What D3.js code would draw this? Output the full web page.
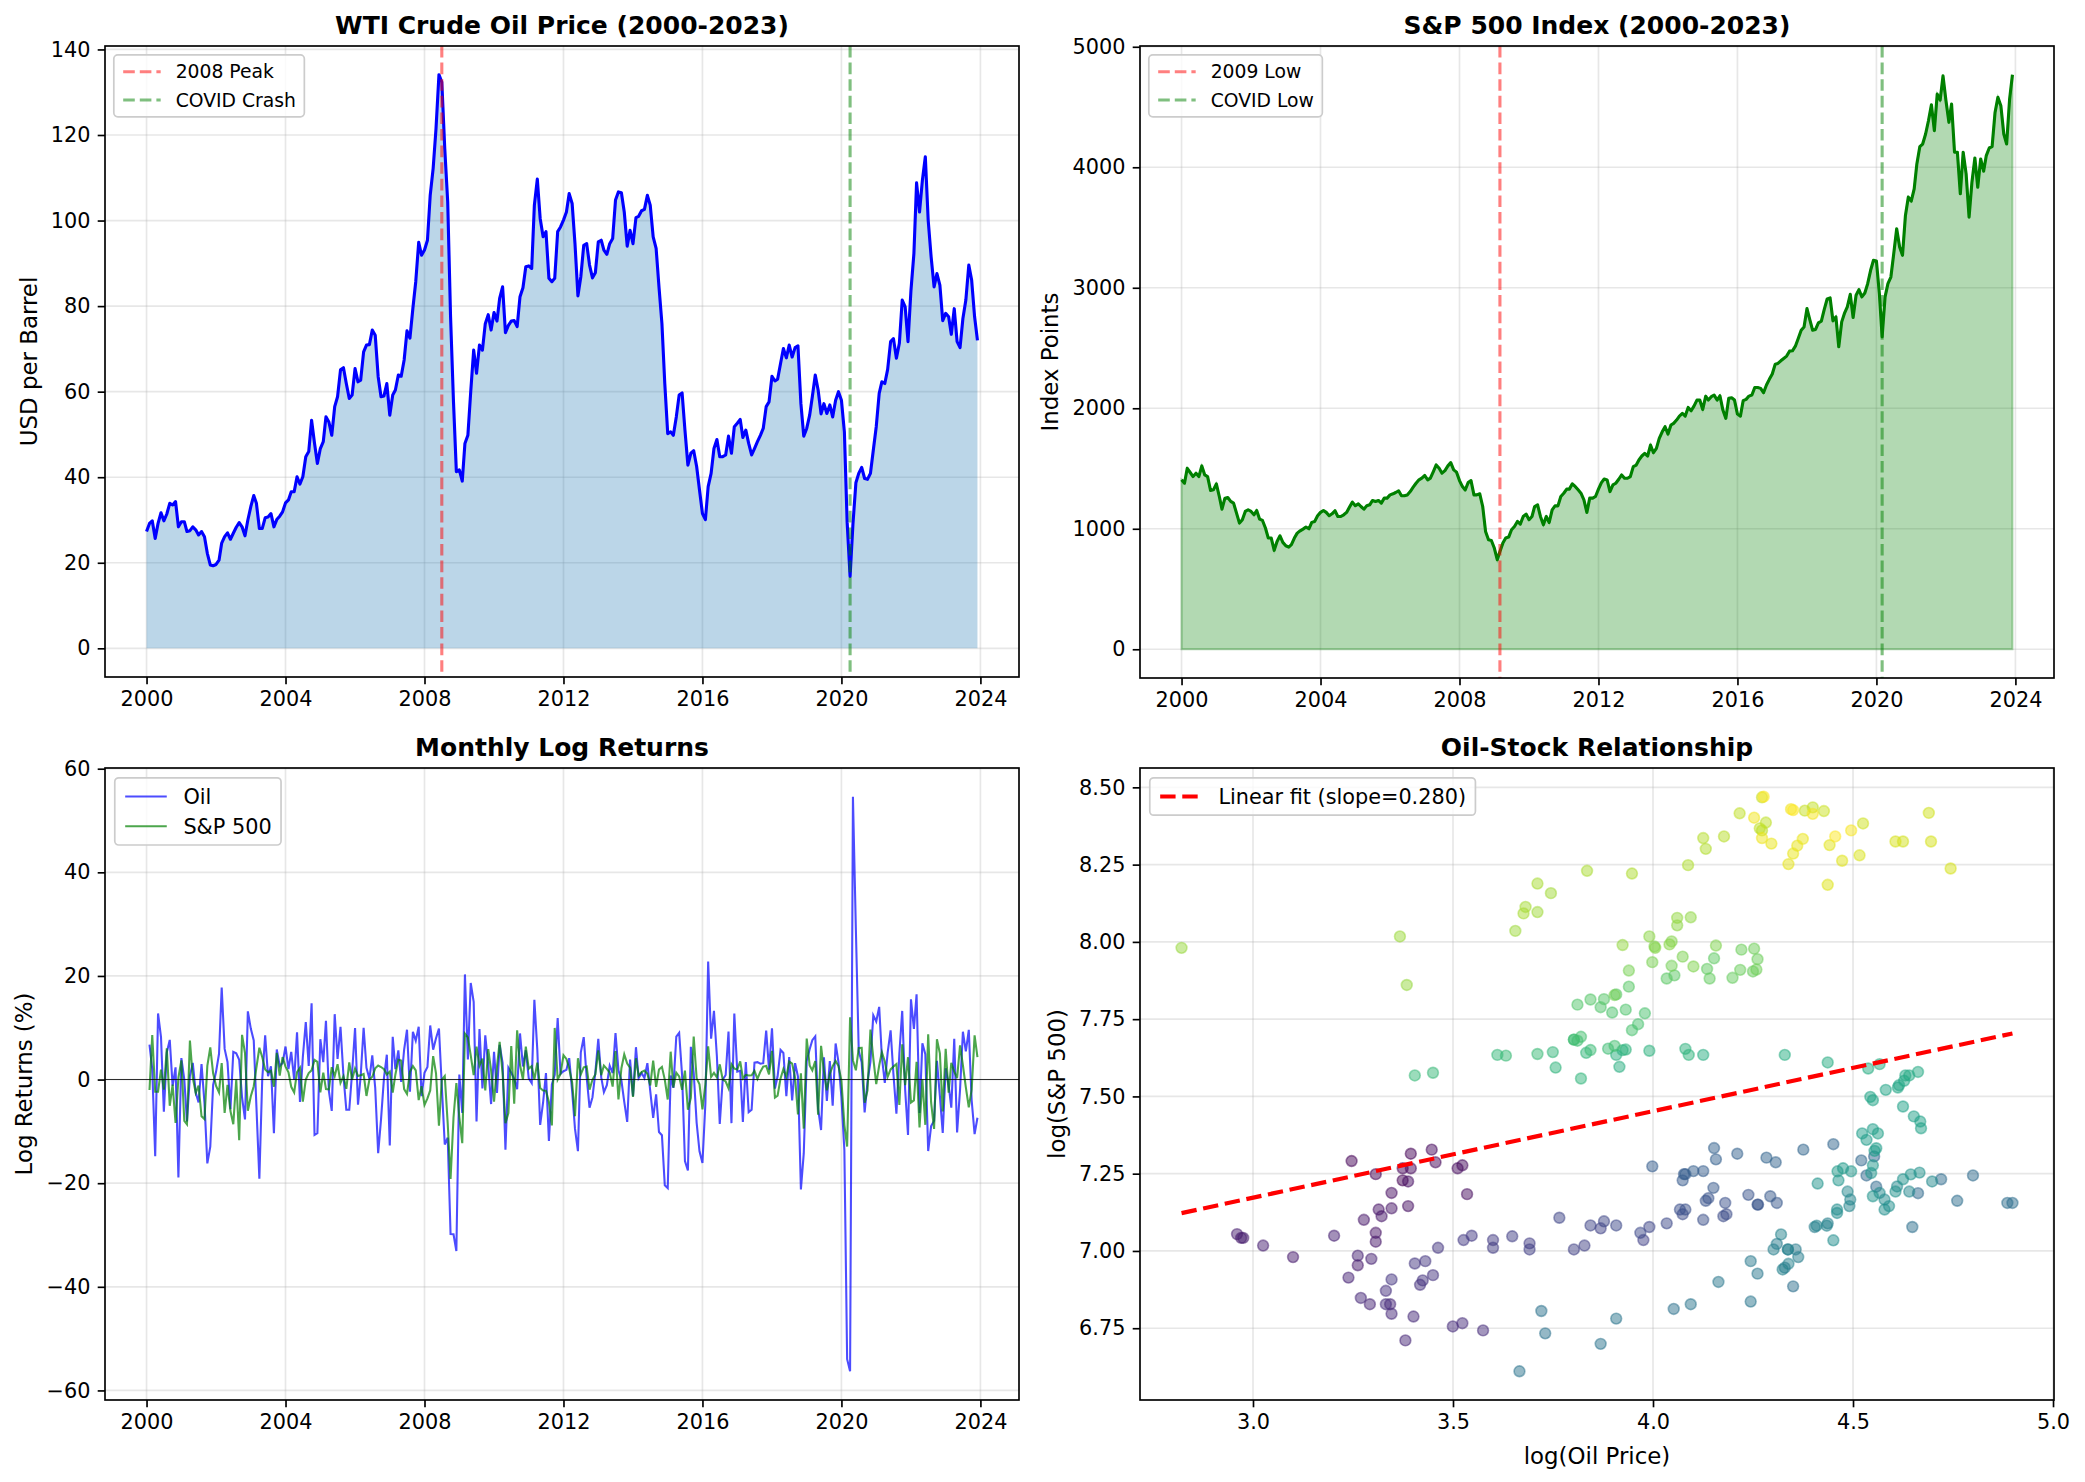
<!DOCTYPE html>
<html><head><meta charset="utf-8">
<script src="https://cdn.jsdelivr.net/npm/d3@7"></script>
<style>body{margin:0;background:#fff} svg{display:block}</style>
</head><body>
<svg id="chart" width="2085" height="1482"></svg>
<script>
// ---------------- DATA (monthly, Jan 2000 .. Dec 2023) ----------------
const startYear = 2000;
const oilPrice = [
 27.3,29.2,29.8,25.7,29.2,31.7,29.8,31.4,33.9,33.5,34.3,28.4,
 29.6,29.6,27.3,27.5,28.4,27.7,26.5,27.3,26.1,22.2,19.5,19.3,
 19.6,20.6,24.6,26.1,27.0,25.5,26.9,28.3,29.4,28.4,26.3,30.0,
 33.1,35.7,33.9,28.0,28.0,30.5,30.7,31.5,28.4,30.1,30.9,31.9,
 34.0,34.7,36.6,36.6,40.1,38.4,40.1,44.8,46.0,53.3,47.9,43.2,
 46.7,48.3,54.1,52.9,49.8,56.5,58.8,65.1,65.6,61.9,58.4,59.2,
 65.4,62.3,62.7,69.3,70.9,71.0,74.4,73.2,63.5,58.8,59.0,61.9,
 54.5,59.2,60.4,63.9,63.6,67.4,74.2,72.5,79.5,85.7,94.9,91.9,
 93.1,95.4,105.9,112.2,121.5,134.1,132.4,116.8,104.4,77.5,57.5,41.3,
 41.7,39.1,47.9,49.8,60.0,69.7,64.3,70.9,69.7,75.9,78.0,74.4,
 78.5,76.5,81.8,84.5,73.8,75.5,76.5,76.6,75.2,82.2,84.3,89.2,
 89.4,88.8,103.6,109.7,100.5,96.2,97.4,86.5,85.7,86.5,97.4,98.5,
 100.1,102.0,106.3,104.0,94.6,82.4,86.8,94.2,94.6,89.6,86.6,87.8,
 95.0,95.4,93.1,92.1,94.6,95.8,104.8,106.7,106.5,102.0,94.0,97.7,
 94.6,100.7,101.0,102.3,102.6,105.9,103.6,96.2,93.5,84.5,75.9,61.9,
 50.2,50.6,49.8,54.1,59.2,59.7,51.0,42.8,45.6,46.2,42.5,37.0,
 31.5,30.1,37.8,40.9,46.7,48.8,44.8,44.8,45.2,49.6,45.6,51.8,
 52.6,53.5,49.3,51.0,47.9,45.2,46.7,48.3,49.8,51.4,56.5,57.6,
 63.6,62.5,62.9,66.6,70.1,67.9,70.9,68.1,70.3,70.7,57.2,49.6,
 51.4,54.5,58.8,63.9,60.4,54.8,57.2,54.9,56.9,54.1,58.0,60.0,
 58.0,50.6,29.5,16.8,29.0,38.7,40.9,42.3,39.7,39.5,40.9,46.3,
 51.8,59.6,62.3,61.9,65.2,71.7,72.4,67.8,71.3,81.4,79.8,71.7,
 83.7,92.3,108.8,102.0,109.4,114.9,100.1,91.5,84.5,87.6,84.9,76.6,
 78.3,77.5,73.4,79.4,71.7,70.3,77.1,81.4,89.6,86.1,77.5,72.0
];
const sp500 = [
 1406,1378,1502,1467,1433,1461,1433,1522,1447,1433,1318,1323,
 1373,1268,1163,1254,1259,1227,1213,1130,1047,1075,1144,1158,
 1144,1116,1152,1080,1069,1006,923,923,821,895,942,887,
 859,848,868,923,964,983,997,1014,1000,1053,1061,1108,
 1136,1152,1136,1108,1124,1150,1102,1102,1116,1136,1180,1221,
 1191,1207,1185,1163,1191,1199,1235,1227,1235,1213,1254,1254,
 1281,1290,1301,1315,1274,1274,1281,1309,1345,1378,1406,1420,
 1442,1406,1420,1475,1530,1502,1461,1483,1522,1549,1489,1470,
 1400,1350,1322,1383,1400,1281,1281,1290,1185,978,909,903,
 840,743,812,881,923,931,992,1019,1061,1039,1102,1122,
 1075,1102,1185,1199,1102,1033,1102,1052,1157,1190,1190,1268,
 1295,1329,1329,1373,1351,1323,1295,1240,1135,1254,1254,1268,
 1329,1383,1413,1405,1309,1364,1378,1411,1447,1419,1419,1433,
 1516,1529,1571,1604,1626,1604,1695,1631,1667,1750,1805,1847,
 1786,1861,1875,1902,1935,1957,1935,2007,1979,2018,2068,2068,
 1990,2100,2068,2096,2109,2068,2104,1985,1916,2082,2087,2068,
 1952,1935,2063,2074,2101,2110,2173,2173,2165,2129,2193,2240,
 2284,2366,2372,2394,2413,2433,2474,2477,2515,2579,2648,2675,
 2827,2731,2648,2654,2709,2723,2819,2907,2916,2726,2759,2510,
 2717,2792,2842,2946,2753,2938,2985,2924,2957,3034,3145,3228,
 3222,2951,2593,2924,3034,3089,3283,3490,3338,3269,3600,3752,
 3719,3821,4028,4171,4193,4276,4386,4519,4304,4607,4558,4759,
 4552,4373,4525,4125,4125,3780,4125,3945,3586,3876,4077,3834,
 4069,3967,4097,4160,4171,4455,4580,4511,4276,4193,4566,4768
];
const yearTicks = [2000,2004,2008,2012,2016,2020,2024];
const oilTicks = [0,20,40,60,80,100,120,140];
const spTicks = [0,1000,2000,3000,4000,5000];
const retTicks = [-60,-40,-20,0,20,40,60];
const logOilTicks = [3.0,3.5,4.0,4.5,5.0];
const logSpTicks = [6.75,7.00,7.25,7.50,7.75,8.00,8.25,8.50];
const oilMarkers = [{date:"2008-07-01", label:"2008 Peak", color:"red"},
                    {date:"2020-04-01", label:"COVID Crash", color:"green"}];
const spMarkers  = [{date:"2009-03-01", label:"2009 Low", color:"red"},
                    {date:"2020-03-01", label:"COVID Low", color:"green"}];
const titles = ["WTI Crude Oil Price (2000-2023)","S&P 500 Index (2000-2023)","Monthly Log Returns","Oil-Stock Relationship"];

// ---------------- SETUP ----------------
const FONT = "DejaVu Sans, sans-serif";
const svg = d3.select("#chart");
svg.append("rect").attr("width",2085).attr("height",1482).attr("fill","#fff");
const dates = oilPrice.map((_,i)=>new Date(startYear, i, 1));
const P = [
  {l:105, r:1019, t:46, b:677},
  {l:1140, r:2054, t:46, b:678},
  {l:105, r:1019, t:768, b:1400},
  {l:1140, r:2054, t:768, b:1400}
];
const TICK=7.3, PAD=7.3, LW=1.67;
function pad(ext){const s=ext[1]-ext[0]; return [ext[0]-0.05*s, ext[1]+0.05*s];}
const tspan = [dates[0], dates[dates.length-1]];
const tpad = pad(tspan.map(d=>+d)).map(v=>new Date(v));

function styleAxis(g){
  g.attr("font-family",FONT).attr("font-size",20.8);
  g.select(".domain").remove();
  g.selectAll(".tick line").attr("stroke","#000").attr("stroke-width",LW);
  g.selectAll(".tick text").attr("fill","#000");
}
function grid(p, x, y, xt, yt){
  const g = svg.append("g");
  g.selectAll("line.gx").data(xt).join("line").attr("x1",d=>x(d)).attr("x2",d=>x(d))
    .attr("y1",p.t).attr("y2",p.b).attr("stroke","#b0b0b0").attr("stroke-opacity",0.3).attr("stroke-width",LW);
  g.selectAll("line.gy").data(yt).join("line").attr("y1",d=>y(d)).attr("y2",d=>y(d))
    .attr("x1",p.l).attr("x2",p.r).attr("stroke","#b0b0b0").attr("stroke-opacity",0.3).attr("stroke-width",LW);
}
function frame(p, x, y, xt, yt, xfmt, yfmt){
  const gx = svg.append("g").attr("transform",`translate(0,${p.b})`)
    .call(d3.axisBottom(x).tickValues(xt).tickFormat(xfmt).tickSizeInner(TICK).tickSizeOuter(0).tickPadding(PAD));
  styleAxis(gx);
  const gy = svg.append("g").attr("transform",`translate(${p.l},0)`)
    .call(d3.axisLeft(y).tickValues(yt).tickFormat(yfmt).tickSizeInner(TICK).tickSizeOuter(0).tickPadding(PAD));
  styleAxis(gy);
  svg.append("rect").attr("x",p.l).attr("y",p.t).attr("width",p.r-p.l).attr("height",p.b-p.t)
    .attr("fill","none").attr("stroke","#000").attr("stroke-width",LW);
}
function title(p, txt){
  svg.append("text").attr("x",(p.l+p.r)/2).attr("y",p.t-12.5).attr("text-anchor","middle")
    .attr("font-family",FONT).attr("font-size",25).attr("font-weight","bold").text(txt);
}
function ylabel(p, x, txt){
  const cy=(p.t+p.b)/2;
  svg.append("text").attr("transform",`translate(${x},${cy}) rotate(-90)`).attr("text-anchor","middle")
    .attr("dy","0.35em").attr("font-family",FONT).attr("font-size",22.9).text(txt);
}
function legend(p, items, fs, rowGap){
  const g = svg.append("g");
  const bx = p.l + 0.47*fs, by = p.t + 0.47*fs;
  const box = g.append("rect");
  const top = 0.9*fs;
  let maxEnd = 0;
  items.forEach((it,i)=>{
    const cy = by + top + i*rowGap;
    const hx0 = bx + 0.5*fs, hx1 = hx0 + 2*fs;
    g.append("line").attr("x1",hx0).attr("x2",hx1).attr("y1",cy).attr("y2",cy)
      .attr("stroke",it.color).attr("stroke-opacity",it.opacity).attr("stroke-width",it.width)
      .attr("stroke-dasharray",it.dash||null);
    const t = g.append("text").attr("x",hx1+0.8*fs).attr("y",cy).attr("dy","0.36em")
      .attr("font-family",FONT).attr("font-size",fs).attr("fill","#000").text(it.label);
    maxEnd = Math.max(maxEnd, hx1+0.8*fs + t.node().getComputedTextLength());
  });
  const h = 2*top + (items.length-1)*rowGap;
  box.attr("x",bx).attr("y",by).attr("width",maxEnd+0.45*fs-bx).attr("height",h)
    .attr("rx",4).attr("fill","#fff").attr("fill-opacity",0.8).attr("stroke","#cccccc").attr("stroke-width",1.7);
}

// ---------------- PANEL 1: OIL ----------------
{
  const p=P[0];
  const x=d3.scaleTime().domain(tpad).range([p.l,p.r]);
  const y=d3.scaleLinear().domain(pad([0,d3.max(oilPrice)])).range([p.b,p.t]);
  grid(p,x,y,yearTicks.map(v=>new Date(v,0,1)),oilTicks);
  svg.append("path").datum(oilPrice).attr("fill","#1f77b4").attr("fill-opacity",0.3)
    .attr("d",d3.area().x((d,i)=>x(dates[i])).y0(y(0)).y1(d=>y(d)));
  svg.append("path").datum(oilPrice).attr("fill","none").attr("stroke","#0000ff").attr("stroke-width",3.1)
    .attr("stroke-linejoin","round").attr("d",d3.line().x((d,i)=>x(dates[i])).y(d=>y(d)));
  oilMarkers.forEach(m=>{
    const xx=x(new Date(m.date+"T00:00:00"));
    svg.append("line").attr("x1",xx).attr("x2",xx).attr("y1",p.t).attr("y2",p.b)
      .attr("stroke",m.color).attr("stroke-opacity",0.5).attr("stroke-width",3.1).attr("stroke-dasharray","11.6,5");
  });
  frame(p,x,y,yearTicks.map(v=>new Date(v,0,1)),oilTicks,d3.timeFormat("%Y"),d3.format("d"));
  title(p,titles[0]); ylabel(p,29,"USD per Barrel");
  legend(p, oilMarkers.map(m=>({label:m.label,color:m.color,opacity:0.5,width:3.1,dash:"11.6,5"})),18.75,28.3);
}
// ---------------- PANEL 2: S&P ----------------
{
  const p=P[1];
  const x=d3.scaleTime().domain(tpad).range([p.l,p.r]);
  const y=d3.scaleLinear().domain(pad([0,d3.max(sp500)])).range([p.b,p.t]);
  grid(p,x,y,yearTicks.map(v=>new Date(v,0,1)),spTicks);
  svg.append("path").datum(sp500).attr("fill","#008000").attr("fill-opacity",0.3)
    .attr("stroke","#008000").attr("stroke-opacity",0.3).attr("stroke-width",2)
    .attr("d",d3.area().x((d,i)=>x(dates[i])).y0(y(0)).y1(d=>y(d)));
  svg.append("path").datum(sp500).attr("fill","none").attr("stroke","#008000").attr("stroke-width",3.1)
    .attr("stroke-linejoin","round").attr("d",d3.line().x((d,i)=>x(dates[i])).y(d=>y(d)));
  spMarkers.forEach(m=>{
    const xx=x(new Date(m.date+"T00:00:00"));
    svg.append("line").attr("x1",xx).attr("x2",xx).attr("y1",p.t).attr("y2",p.b)
      .attr("stroke",m.color).attr("stroke-opacity",0.5).attr("stroke-width",3.1).attr("stroke-dasharray","11.6,5");
  });
  frame(p,x,y,yearTicks.map(v=>new Date(v,0,1)),spTicks,d3.timeFormat("%Y"),d3.format("d"));
  title(p,titles[1]); ylabel(p,1050,"Index Points");
  legend(p, spMarkers.map(m=>({label:m.label,color:m.color,opacity:0.5,width:3.1,dash:"11.6,5"})),18.75,28.3);
}
// ---------------- PANEL 3: RETURNS ----------------
const oilRet = oilPrice.slice(1).map((v,i)=>100*Math.log(v/oilPrice[i]));
const spRet = sp500.slice(1).map((v,i)=>100*Math.log(v/sp500[i]));
const retDates = dates.slice(1);
{
  const p=P[2];
  const x=d3.scaleTime().domain(tpad).range([p.l,p.r]);
  const y=d3.scaleLinear().domain(pad(d3.extent(oilRet.concat(spRet)))).range([p.b,p.t]);
  grid(p,x,y,yearTicks.map(v=>new Date(v,0,1)),retTicks);
  svg.append("path").datum(oilRet).attr("fill","none").attr("stroke","#0000ff").attr("stroke-opacity",0.7)
    .attr("stroke-width",2.08).attr("d",d3.line().x((d,i)=>x(retDates[i])).y(d=>y(d)));
  svg.append("path").datum(spRet).attr("fill","none").attr("stroke","#008000").attr("stroke-opacity",0.7)
    .attr("stroke-width",2.08).attr("d",d3.line().x((d,i)=>x(retDates[i])).y(d=>y(d)));
  svg.append("line").attr("x1",p.l).attr("x2",p.r).attr("y1",y(0)).attr("y2",y(0))
    .attr("stroke","#000").attr("stroke-width",1.1).attr("stroke-opacity",0.8);
  frame(p,x,y,yearTicks.map(v=>new Date(v,0,1)),retTicks,d3.timeFormat("%Y"),d3.format("d"));
  title(p,titles[2]); ylabel(p,24,"Log Returns (%)");
  legend(p,[{label:"Oil",color:"#0000ff",opacity:0.7,width:2.08},{label:"S&P 500",color:"#008000",opacity:0.7,width:2.08}],20.8,29.8);
}
// ---------------- PANEL 4: SCATTER ----------------
{
  const p=P[3];
  const lx=oilPrice.map(Math.log), ly=sp500.map(Math.log);
  const x=d3.scaleLinear().domain(pad(d3.extent(lx))).range([p.l,p.r]);
  const y=d3.scaleLinear().domain(pad(d3.extent(ly))).range([p.b,p.t]);
  grid(p,x,y,logOilTicks,logSpTicks);
  const n=lx.length;
  svg.append("g").selectAll("circle").data(lx).join("circle")
    .attr("cx",d=>x(d)).attr("cy",(d,i)=>y(ly[i])).attr("r",5.4)
    .attr("fill",(d,i)=>d3.interpolateViridis(i/(n-1))).attr("fill-opacity",0.5)
    .attr("stroke",(d,i)=>d3.interpolateViridis(i/(n-1))).attr("stroke-opacity",0.5).attr("stroke-width",1.6);
  const mx=d3.mean(lx), my=d3.mean(ly);
  const slope=d3.sum(lx,(v,i)=>(v-mx)*(ly[i]-my))/d3.sum(lx,v=>(v-mx)*(v-mx));
  const icpt=my-slope*mx;
  const ex=d3.extent(lx);
  svg.append("line").attr("x1",x(ex[0])).attr("x2",x(ex[1])).attr("y1",y(icpt+slope*ex[0])).attr("y2",y(icpt+slope*ex[1]))
    .attr("stroke","red").attr("stroke-width",4.17).attr("stroke-dasharray","15.4,6.7");
  frame(p,x,y,logOilTicks,logSpTicks,d3.format(".1f"),d3.format(".2f"));
  title(p,titles[3]); ylabel(p,1057,"log(S&P 500)");
  svg.append("text").attr("x",(p.l+p.r)/2).attr("y",1464).attr("text-anchor","middle")
    .attr("font-family",FONT).attr("font-size",22.9).text("log(Oil Price)");
  legend(p,[{label:`Linear fit (slope=${slope.toFixed(3)})`,color:"red",opacity:1,width:4.17,dash:"15.4,6.7"}],20.8,0);
}
</script>
</body></html>
